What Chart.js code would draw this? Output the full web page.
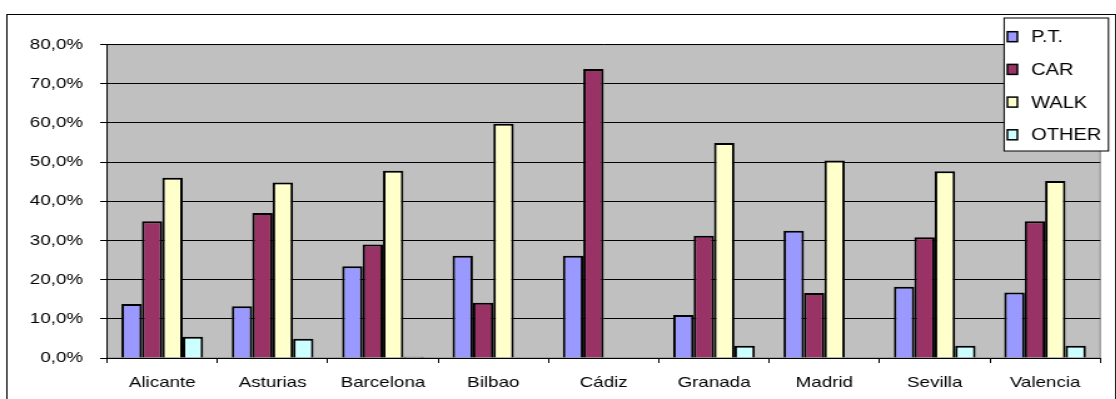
<!DOCTYPE html>
<html>
<head>
<meta charset="utf-8">
<script src="https://cdn.jsdelivr.net/npm/chart.js@4.4.0/dist/chart.umd.min.js"></script>
<style>
  html, body { margin: 0; padding: 0; background: #fff; overflow: hidden; }
  /* the source picture is stretched sideways, so draw narrower and stretch it */
  #wrap { width: 892.8px; height: 399px; transform: scaleX(1.25); transform-origin: 0 0; }
</style>
</head>
<body>
<div id="wrap"><canvas id="chart"></canvas></div>
<script>
const cities = ['Alicante', 'Asturias', 'Barcelona', 'Bilbao', 'Cádiz', 'Granada', 'Madrid', 'Sevilla', 'Valencia'];
const ptValues = [13.8, 13.2, 23.4, 26.1, 26.1, 11.0, 32.5, 18.2, 16.7];
const carValues = [34.9, 37.0, 29.0, 14.1, 73.8, 31.2, 16.6, 30.8, 34.9];
const walkValues = [46.0, 44.8, 47.8, 59.8, 0, 54.9, 50.4, 47.7, 45.2];
const otherValues = [5.4, 4.9, 0.3, 0, 0, 3.1, 0, 3.1, 3.1];
const yTicks = [0, 10, 20, 30, 40, 50, 60, 70, 80];

const FONT = { family: '"Liberation Sans", Arial, sans-serif', size: 15 };

// grey plot area, outer frame and the boxed legend inside the plot
const framePlugin = {
  id: 'frame',
  beforeDraw(chart) {
    const { ctx, chartArea: a } = chart;
    ctx.save();
    ctx.strokeStyle = '#000';
    ctx.lineWidth = 1;
    ctx.strokeRect(5.5, 14.5, 886, 400);
    ctx.fillStyle = '#c0c0c0';
    ctx.fillRect(a.left, a.top, a.right - a.left, a.bottom - a.top);
    ctx.strokeStyle = '#808080';
    ctx.strokeRect(a.left, a.top, a.right - a.left, a.bottom - a.top);
    ctx.restore();
  },
  afterDraw(chart) {
    const ctx = chart.ctx;
    ctx.save();
    ctx.fillStyle = '#fff';
    ctx.fillRect(802.4, 18, 83.4, 133);
    ctx.strokeStyle = '#000';
    ctx.lineWidth = 1;
    ctx.strokeRect(802.4, 18, 83.4, 133);
    ctx.font = '16px ' + FONT.family;
    ctx.textBaseline = 'middle';
    chart.data.datasets.forEach((ds, i) => {
      const cy = 36.7 + i * 32.7;
      ctx.fillStyle = ds.backgroundColor;
      ctx.fillRect(805, cy - 5, 8, 10);
      ctx.strokeStyle = '#000';
      ctx.lineWidth = 1.5;
      ctx.strokeRect(805, cy - 5, 8, 10);
      ctx.fillStyle = '#000';
      ctx.fillText(ds.label, 824, cy + 1);
    });
    ctx.restore();
  }
};

const ctx = document.getElementById('chart').getContext('2d');
new Chart(ctx, {
  type: 'bar',
  data: {
    labels: cities,
    datasets: [
      { label: 'P.T.', data: ptValues, backgroundColor: '#9999ff' },
      { label: 'CAR', data: carValues, backgroundColor: '#993366' },
      { label: 'WALK', data: walkValues, backgroundColor: '#ffffcc' },
      { label: 'OTHER', data: otherValues, backgroundColor: '#ccffff' }
    ].map(ds => Object.assign(ds, { borderColor: '#000', borderWidth: 2, borderSkipped: 'bottom' }))
  },
  options: {
    responsive: true,
    maintainAspectRatio: false,
    animation: false,
    categoryPercentage: 0.74,
    barPercentage: 1.0,
    layout: {
      padding: { top: 44.6, right: 13.6, bottom: 0, left: 0 }
    },
    scales: {
      x: {
        grid: { drawOnChartArea: false, drawTicks: true, tickLength: 5, color: '#000' },
        border: { color: '#000' },
        ticks: { color: '#000', font: FONT, padding: 11, maxRotation: 0, autoSkip: false },
        afterFit(scale) { scale.height = 41; }
      },
      y: {
        min: 0,
        max: 80,
        grid: { color: '#000', tickLength: 5.6 },
        border: { color: '#000' },
        afterBuildTicks(scale) { scale.ticks = yTicks.map(v => ({ value: v })); },
        ticks: {
          color: '#000',
          font: FONT,
          padding: 13.6,
          callback: v => v.toFixed(1).replace('.', ',') + '%'
        },
        afterFit(scale) { scale.width = 85.6; }
      }
    },
    plugins: {
      legend: { display: false },
      tooltip: { enabled: false }
    }
  },
  plugins: [framePlugin]
});
</script>
</body>
</html>
